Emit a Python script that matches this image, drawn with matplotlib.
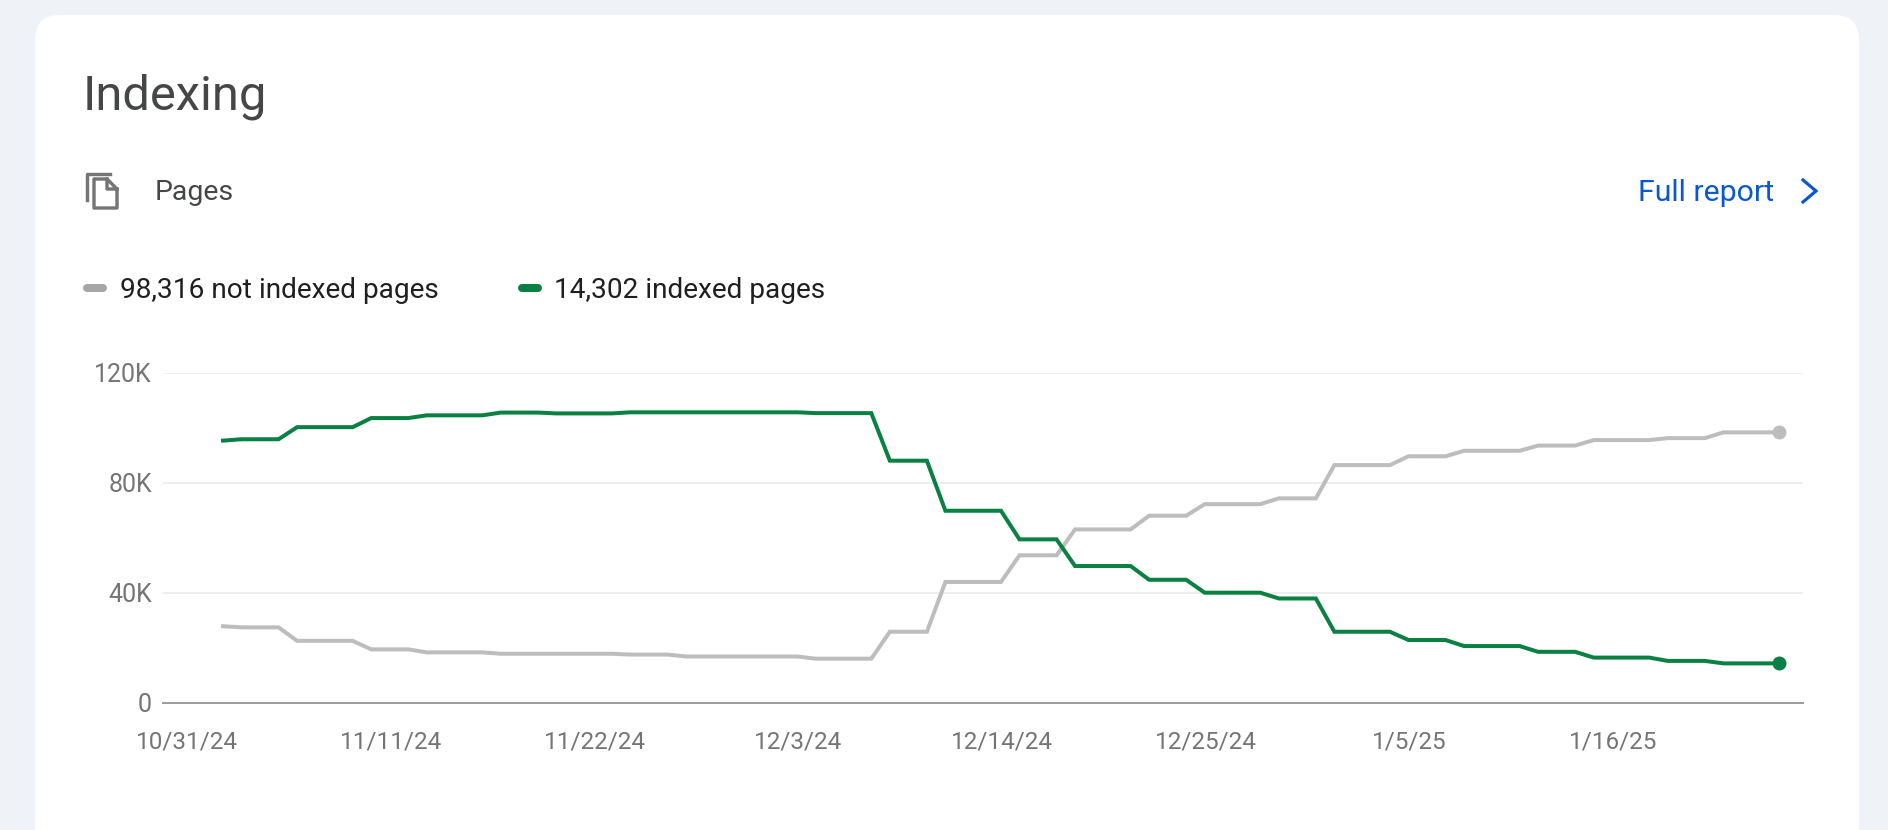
import matplotlib
matplotlib.use('Agg')
import matplotlib.pyplot as plt
from matplotlib.patches import FancyBboxPatch
from matplotlib.transforms import ScaledTranslation
import pandas as pd

plt.rcParams['font.family'] = ['Roboto', 'DejaVu Sans']

# daily page counts (thousands), 10/31/24 .. 1/23/25
not_indexed = [27.8, 27.4, 27.4, 27.4, 22.5, 22.5, 22.5, 22.5, 19.4, 19.4, 19.4,
               18.3, 18.3, 18.3, 18.3, 17.8, 17.8, 17.8, 17.8, 17.8, 17.8, 17.8,
               17.5, 17.5, 17.5, 16.8, 16.8, 16.8, 16.8, 16.8, 16.8, 16.8,
               16.0, 16.0, 16.0, 16.0, 25.8, 25.8, 25.8, 43.9, 43.9, 43.9, 43.9,
               53.6, 53.6, 53.6, 63.0, 63.0, 63.0, 63.0, 68.0, 68.0, 68.0,
               72.2, 72.2, 72.2, 72.2, 74.3, 74.3, 74.3, 86.4, 86.4, 86.4, 86.4,
               89.6, 89.6, 89.6, 91.6, 91.6, 91.6, 91.6, 93.5, 93.5, 93.5,
               95.5, 95.5, 95.5, 95.5, 96.2, 96.2, 96.2, 98.3, 98.3, 98.3, 98.3]
indexed = [95.3, 95.8, 95.8, 95.8, 100.2, 100.2, 100.2, 100.2, 103.5, 103.5, 103.5,
           104.5, 104.5, 104.5, 104.5, 105.5, 105.5, 105.5, 105.2, 105.2, 105.2, 105.2,
           105.6, 105.6, 105.6, 105.6, 105.6, 105.6, 105.6, 105.6, 105.6, 105.6,
           105.3, 105.3, 105.3, 105.3, 88.0, 88.0, 88.0, 69.8, 69.8, 69.8, 69.8,
           59.4, 59.4, 59.4, 49.7, 49.7, 49.7, 49.7, 44.7, 44.7, 44.7,
           40.0, 40.0, 40.0, 40.0, 37.9, 37.9, 37.9, 25.8, 25.8, 25.8, 25.8,
           22.8, 22.8, 22.8, 20.6, 20.6, 20.6, 20.6, 18.5, 18.5, 18.5,
           16.4, 16.4, 16.4, 16.4, 15.2, 15.2, 15.2, 14.3, 14.3, 14.3, 14.3]
xtick_dates = ['2024-10-31', '2024-11-11', '2024-11-22', '2024-12-03', '2024-12-14',
               '2024-12-25', '2025-01-05', '2025-01-16']
xtick_labels = ['10/31/24', '11/11/24', '11/22/24', '12/3/24', '12/14/24',
                '12/25/24', '1/5/25', '1/16/25']
ytick_vals = [0, 40, 80, 120]
ytick_labels = ['0', '40K', '80K', '120K']
legend_labels = ['98,316 not indexed pages', '14,302 indexed pages']

GREY = '#bdbdbd'
GREEN = '#0a8043'
W, H = 1888, 830
PX = 0.72  # points per pixel at dpi 100

dates = pd.date_range('2024-10-31', periods=len(indexed))

fig = plt.figure(figsize=(W / 100, H / 100), dpi=100, facecolor='#eff3f8')

# page furniture, in pixel coords
bg = fig.add_axes([0, 0, 1, 1])
bg.set_xlim(0, W)
bg.set_ylim(H, 0)
bg.axis('off')
bg.add_patch(FancyBboxPatch((35 + 25, 15 + 25), 1824 - 50, 900, boxstyle='round,pad=25,rounding_size=25',
                            fc='white', ec='none', clip_on=True))

bg.text(83, 110, 'Indexing', fontsize=35.2, color='#444746', va='baseline')
bg.text(155, 200, 'Pages', fontsize=20.5, color='#444746', va='baseline')
bg.text(1638, 201, 'Full report', fontsize=21.8, color='#0b57d0', va='baseline')
bg.plot([1803, 1816, 1803], [180, 191, 202], color='#0b57d0', lw=3.2 * PX, solid_joinstyle='miter')

# pages icon
bg.plot([110, 87, 87], [174, 174, 200], color='#757575', lw=3.4 * PX)
bg.plot([107, 94, 94, 117, 117, 107, 107, 117], [179, 179, 208, 208, 189, 179, 189, 189],
        color='#757575', lw=3.4 * PX, solid_joinstyle='round')

# legend
for x0, x1, tx, col, lab in [(87, 103, 119.5, '#a6a6a6', legend_labels[0]),
                             (522, 538, 554, GREEN, legend_labels[1])]:
    bg.plot([x0, x1], [288, 288], color=col, lw=8 * PX, solid_capstyle='round')
    bg.text(tx, 298, lab, fontsize=20.2, color='#1f1f1f', va='baseline')

# chart
ax = fig.add_axes([163 / W, (H - 702.7) / H, 1640 / W, 330 / H])
ax.patch.set_alpha(0)
ax.plot(dates, not_indexed, color=GREY, lw=4 * PX, solid_joinstyle='miter', zorder=3)
ax.plot(dates, indexed, color=GREEN, lw=4 * PX, solid_joinstyle='miter', zorder=4)
ax.plot(dates[-1], not_indexed[-1], 'o', color=GREY, ms=14 * PX, mew=0, zorder=5)
ax.plot(dates[-1], indexed[-1], 'o', color=GREEN, ms=14 * PX, mew=0, zorder=5)

ax.set_xlim(dates[0] - pd.Timedelta(hours=3.24 * 24), dates[-1] + pd.Timedelta(hours=1.3 * 24))
ax.set_ylim(0, 120)
ax.set_yticks(ytick_vals)
ax.set_yticklabels(ytick_labels)
ax.set_xticks(pd.to_datetime(xtick_dates))
ax.set_xticklabels(xtick_labels)
ax.tick_params(axis='y', length=0, pad=8, labelsize=18, labelcolor='#757575')
ax.tick_params(axis='x', length=0, pad=20, labelsize=17.5, labelcolor='#757575')
ax.grid(axis='y', color='#eeeeee', lw=2 * PX, zorder=0)
ax.set_axisbelow(True)
for s in ['top', 'right', 'left']:
    ax.spines[s].set_visible(False)
ax.spines['bottom'].set_color('#9e9e9e')
ax.spines['bottom'].set_linewidth(2 * PX)

# the date labels sit left of their points in the original
shift = ScaledTranslation(-36 / 100, 0, fig.dpi_scale_trans)
for lab in ax.get_xticklabels():
    lab.set_transform(lab.get_transform() + shift)

fig.savefig('out.png', dpi=100, facecolor=fig.get_facecolor())
